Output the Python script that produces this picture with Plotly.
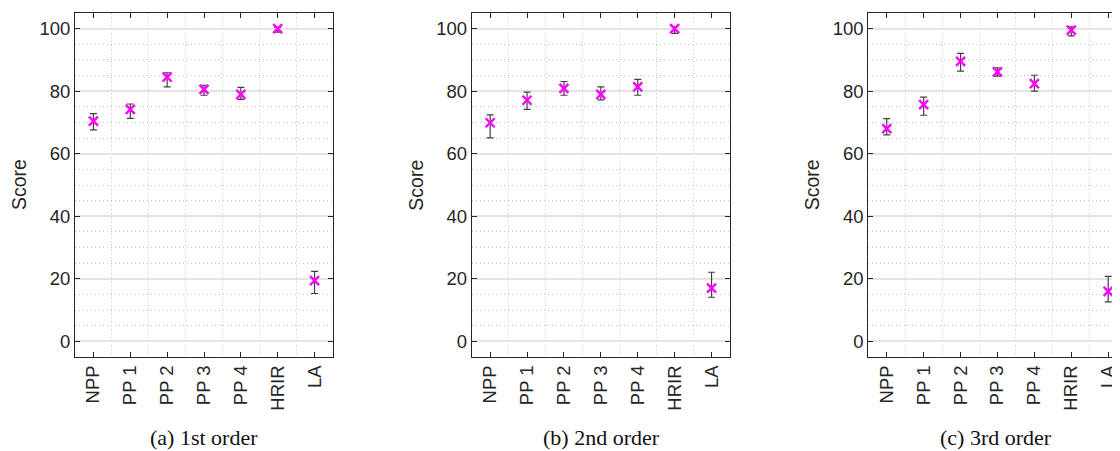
import plotly.graph_objects as go

# 聽測結果 - 三種 order 的平均分數與誤差範圍
conditions = ['NPP', 'PP 1', 'PP 2', 'PP 3', 'PP 4', 'HRIR', 'LA']
x_pos = [1, 2, 3, 4, 5, 6, 7]
captions = ['(a) 1st order', '(b) 2nd order', '(c) 3rd order']

score_1st = [70.4, 74.2, 84.5, 80.6, 79.0, 100.0, 19.4]
upper_1st = [72.8, 75.9, 85.9, 81.9, 81.2, 100.4, 22.4]
lower_1st = [67.6, 71.3, 81.4, 78.7, 77.4, 98.9, 15.3]

score_2nd = [69.9, 77.1, 80.9, 79.0, 81.4, 100.0, 17.0]
upper_2nd = [72.4, 79.7, 83.1, 81.4, 83.8, 100.6, 22.1]
lower_2nd = [65.1, 74.2, 78.7, 77.2, 78.7, 98.5, 14.1]

score_3rd = [68.0, 75.7, 89.5, 86.2, 82.4, 99.5, 16.0]
upper_3rd = [71.2, 78.1, 92.1, 87.5, 85.1, 100.6, 20.8]
lower_3rd = [66.0, 72.3, 86.4, 84.8, 80.0, 97.7, 12.6]

y_ticks = [0, 20, 40, 60, 80, 100]

panels = [(score_1st, upper_1st, lower_1st),
          (score_2nd, upper_2nd, lower_2nd),
          (score_3rd, upper_3rd, lower_3rd)]

# 頁面 body 預設有 8px 邊距，所以圖縮小 8px
OFF = 8
W, H = 1120 - OFF, 451 - OFF
# 各子圖在截圖上的像素位置 (左, 右)
x_domains = [(75, 333), (471.7, 730), (868.3, 1120)]
x_ranges = [[0.5, 7.5], [0.5, 7.5], [0.5, 7.32]]
y_domain = [1 - (357 - OFF) / H, 1 - (13 - OFF) / H]

sans = 'Liberation Sans, Arial, sans-serif'
serif = 'Liberation Serif, Times New Roman, serif'
axis_col = '#262626'
dots = '1px,3px'

fig = go.Figure()

for i, (score, upper, lower) in enumerate(panels):
    n = '' if i == 0 else str(i + 1)
    err_hi = [u - s for u, s in zip(upper, score)]
    err_lo = [s - l for s, l in zip(score, lower)]
    fig.add_trace(go.Scatter(
        x=x_pos, y=score, mode='markers',
        xaxis='x' + n, yaxis='y' + n,
        marker=dict(symbol='x-thin', size=9, color='#ff00ff',
                    line=dict(color='#ff00ff', width=2.4)),
        error_y=dict(type='data', symmetric=False, array=err_hi, arrayminus=err_lo,
                     color='#404040', thickness=1.2, width=3.5),
        showlegend=False, cliponaxis=False))

    left, right = [v - OFF for v in x_domains[i]]
    fig.layout['xaxis' + n] = dict(
        domain=[left / W, min(right / W, 1)], range=x_ranges[i], anchor='y' + n,
        tickvals=x_pos, ticktext=conditions, tickangle=-90,
        ticks='inside', ticklen=5, tickcolor=axis_col,
        showline=True, linecolor=axis_col, linewidth=1, mirror='ticks',
        showgrid=False, zeroline=False,
        minor=dict(tickvals=[1.5, 2.5, 3.5, 4.5, 5.5, 6.5], showgrid=True,
                   gridcolor='#c4c4c4', griddash=dots, gridwidth=1, ticks=''),
        tickfont=dict(family=sans, size=18.5, color=axis_col))
    fig.layout['yaxis' + n] = dict(
        domain=y_domain, range=[-5, 105], anchor='x' + n,
        tickvals=y_ticks, ticks='inside', ticklen=5, tickcolor=axis_col,
        showline=True, linecolor=axis_col, linewidth=1,
        mirror='ticks' if i < 2 else False,
        showgrid=True, gridcolor='#e4e4e4', gridwidth=1.5, zeroline=False,
        minor=dict(dtick=5, showgrid=True, gridcolor='#c4c4c4', griddash=dots,
                   gridwidth=1, ticks=''),
        tickfont=dict(family=sans, size=18.5, color=axis_col))

    # y 軸標題
    fig.add_annotation(x=(left - 56) / W, y=1 - (185 - OFF) / H, xref='paper', yref='paper',
                       xanchor='center', yanchor='middle',
                       text='Score', textangle=-90, showarrow=False,
                       font=dict(family=sans, size=19.5, color=axis_col))
    # 子圖說明
    cx = [204, 601, 996][i] - OFF
    fig.add_annotation(x=cx / W, y=1 - (451 - OFF) / H,
                       xref='paper', yref='paper', xanchor='center', yanchor='bottom',
                       borderpad=0, text=captions[i], showarrow=False,
                       font=dict(family=serif, size=22, color='#111111'))

fig.update_layout(width=W, height=H, margin=dict(l=0, r=0, t=0, b=0),
                  plot_bgcolor='white', paper_bgcolor='white')

fig.write_html('out.html')
